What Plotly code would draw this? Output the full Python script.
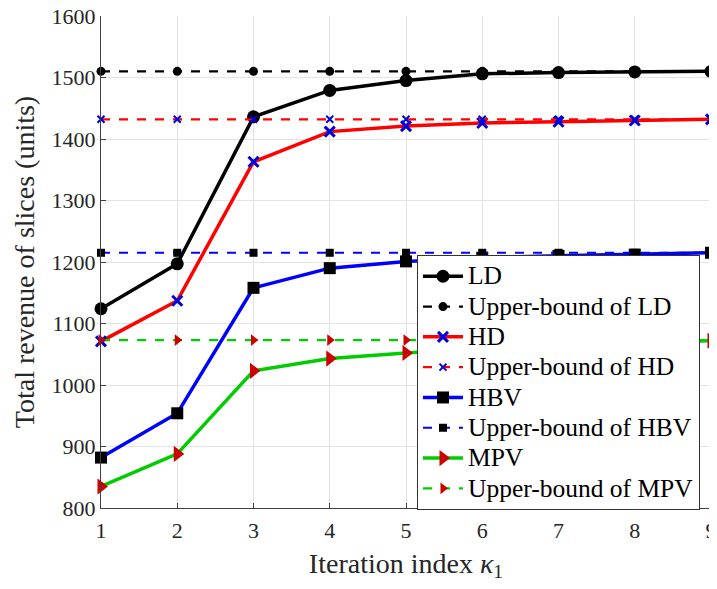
import plotly.graph_objects as go

iters = [1, 2, 3, 4, 5, 6, 7, 8, 9]
ld = [1124, 1197, 1436, 1479, 1495, 1506, 1508, 1509, 1510]
ld_ub = [1510] * 9
hd = [1071, 1137, 1363, 1412, 1421, 1426, 1428, 1430, 1432]
hd_ub = [1432] * 9
hbv = [882, 954, 1158, 1190, 1201, 1207, 1210, 1212, 1215]
hbv_ub = [1215] * 9
mpv = [835, 888, 1023, 1043, 1052, 1060, 1065, 1069, 1072]
mpv_ub = [1073] * 9

FONT = "Liberation Serif"

fig = go.Figure()

def add(name, y, lc, dash, lw, sym, ms, mc, mlw=0):
    fig.add_trace(go.Scatter(
        x=iters, y=y, mode="lines+markers",
        name='<span style="font-size:25.5px">' + name + "</span>",
        line=dict(color=lc, width=lw, dash=dash),
        marker=dict(symbol=sym, size=ms, color=mc, line=dict(width=mlw, color=mc)),
        cliponaxis=False,
    ))

add("LD", ld, "black", "solid", 3.5, "circle", 13, "black")
add("Upper-bound of LD", ld_ub, "black", "dash", 2.2, "circle", 9, "black")
add("HD", hd, "#ff0000", "solid", 3.5, "x-thin-open", 10, "#0000dd", 3)
add("Upper-bound of HD", hd_ub, "#ff0000", "dash", 2.2, "x-thin-open", 7, "#0000dd", 2)
add("HBV", hbv, "#0000ff", "solid", 3.5, "square", 12, "black")
add("Upper-bound of HBV", hbv_ub, "#0000ff", "dash", 2.2, "square", 8, "black")
add("MPV", mpv, "#00cc00", "solid", 3.5, "triangle-right", 14, "#cc0000")
add("Upper-bound of MPV", mpv_ub, "#00cc00", "dash", 2.2, "triangle-right", 10, "#cc0000")

fig.update_layout(
    width=717, height=589,
    margin=dict(l=93, r=14, t=8, b=89, autoexpand=False),
    paper_bgcolor="white", plot_bgcolor="white",
    font=dict(family=FONT, color="#262626"),
    showlegend=True,
    legend=dict(
        x=0.518, y=0.514, xanchor="left", yanchor="top",
        bgcolor="white", bordercolor="#333333", borderwidth=1,
        font=dict(family=FONT, size=21, color="black"),
        itemwidth=40, tracegroupgap=0,
    ),
)
fig.update_xaxes(
    range=[1, 9], tickvals=iters, ticktext=[str(v) for v in iters],
    tickfont=dict(family=FONT, size=22, color="#262626"),
    ticklabeloverflow="allow", ticklabelstandoff=3, automargin=False,
    showgrid=True, gridcolor="#e3e3e3", gridwidth=1,
    showline=True, linecolor="#404040", linewidth=1,
    ticks="inside", ticklen=5, tickcolor="#404040",
    zeroline=False,
    title=dict(text="Iteration index <i>κ</i><sub>1</sub>", font=dict(family=FONT, size=28, color="#262626"), standoff=10),
)
fig.update_yaxes(
    range=[800, 1600], tickvals=list(range(800, 1601, 100)),
    tickfont=dict(family=FONT, size=22, color="#262626"),
    ticklabeloverflow="allow", automargin=False,
    showgrid=True, gridcolor="#e3e3e3", gridwidth=1,
    showline=True, linecolor="#404040", linewidth=1,
    ticks="inside", ticklen=5, tickcolor="#404040",
    zeroline=False,
    title=dict(text="Total revenue of slices (units)", font=dict(family=FONT, size=28, color="#262626"), standoff=8),
)

fig.write_html("out.html")
